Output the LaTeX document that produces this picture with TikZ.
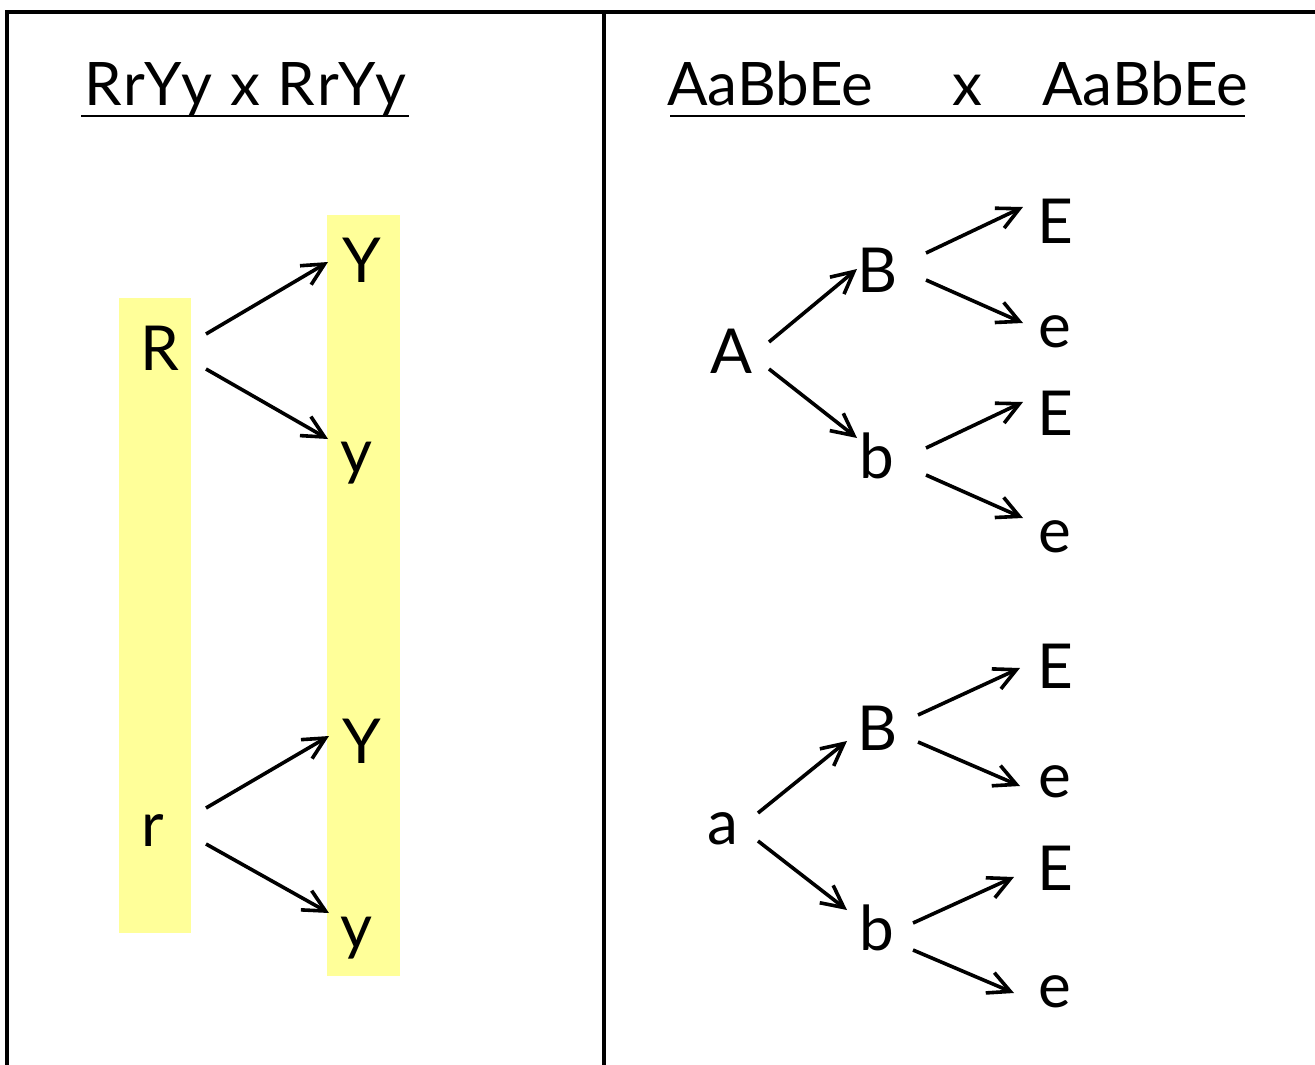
\documentclass[tikz,border=0pt]{standalone}
\usepackage{fontspec}
\setmainfont{Lato}
\usetikzlibrary{arrows.meta}
\definecolor{hl}{HTML}{FFFF99}
\tikzset{
  lt/.style={inner sep=0pt, anchor=base, font=\fontsize{62}{62}\selectfont},
  ttl/.style={inner sep=0pt, anchor=base, font=\fontsize{60}{60}\selectfont},
  arr/.style={line width=3.6pt, -{Straight Barb[length=22pt,width=22pt,line width=3.6pt]}},
  frame/.style={line width=4.5pt},
  uline/.style={line width=1.5pt}
}
\begin{document}
\begin{tikzpicture}[x=1pt,y=-1pt]
\useasboundingbox (0,0) rectangle (1315,1065);
% frame
\draw[frame] (1315,12) -- (7,12) -- (7,1065);
\draw[frame] (604,12) -- (604,1065);
% highlights
\fill[hl] (119,298) rectangle (191,933);
\fill[hl] (327,215) rectangle (400,976);
% left title
\node[ttl] (t1) at (245,106) {\addfontfeatures{LetterSpace=4}RrYy x RrYy};
\draw[uline] (81,116) -- (409,116);
% right title
\node[ttl] (t2a) at (770,106) {AaBbEe};
\node[ttl] (t2x) at (967,106) {x};
\node[ttl] (t2b) at (1145,106) {AaBbEe};
\draw[uline] (670,116) -- (1245,116);
% left letters
\node[lt] (R) at (160,370) {R};
\node[lt] (r) at (153,846) {r};
\node[lt] (Y1) at (362,282) {Y};
\node[lt] (y1) at (356,473) {y};
\node[lt] (Y2) at (362,763) {Y};
\node[lt] (y2) at (356,948) {y};
\draw[arr] ([shift={(46,-36)}]R.base) -- ([shift={(-34,-20)}]Y1.base);
\draw[arr] ([shift={(46,-1)}]R.base) -- ([shift={(-28,-34)}]y1.base);
\draw[arr] ([shift={(53,-38)}]r.base) -- ([shift={(-33,-27)}]Y2.base);
\draw[arr] ([shift={(53,-2)}]r.base) -- ([shift={(-27,-35)}]y2.base);
% right upper tree
\node[lt] (A) at (731,373) {A};
\node[lt] (B1) at (878,292) {B};
\node[lt] (b1) at (877,478) {b};
\node[lt] (E1) at (1055,243) {E};
\node[lt] (e1) at (1055,347) {e};
\node[lt] (E2) at (1055,435) {E};
\node[lt] (e2) at (1055,552) {e};
\draw[arr] ([shift={(38,-31)}]A.base) -- ([shift={(-21,-23)}]B1.base);
\draw[arr] ([shift={(38,-4)}]A.base) -- ([shift={(-20,-40)}]b1.base);
\draw[arr] ([shift={(48,-39)}]B1.base) -- ([shift={(-32,-36)}]E1.base);
\draw[arr] ([shift={(48,-12)}]B1.base) -- ([shift={(-32,-24)}]e1.base);
\draw[arr] ([shift={(49,-30)}]b1.base) -- ([shift={(-32,-33)}]E2.base);
\draw[arr] ([shift={(49,-3)}]b1.base) -- ([shift={(-32,-34)}]e2.base);
% right lower tree
\node[lt] (a) at (723,844) {a};
\node[lt] (B2) at (878,750) {B};
\node[lt] (b2) at (877,950) {b};
\node[lt] (E3) at (1055,688) {E};
\node[lt] (e3) at (1055,797) {e};
\node[lt] (E4) at (1055,890) {E};
\node[lt] (e4) at (1055,1007) {e};
\draw[arr] ([shift={(35,-31)}]a.base) -- ([shift={(-31,-9)}]B2.base);
\draw[arr] ([shift={(35,-3)}]a.base) -- ([shift={(-30,-40)}]b2.base);
\draw[arr] ([shift={(40,-35)}]B2.base) -- ([shift={(-35,-20)}]E3.base);
\draw[arr] ([shift={(40,-8)}]B2.base) -- ([shift={(-35,-11)}]e3.base);
\draw[arr] ([shift={(36,-27)}]b2.base) -- ([shift={(-41,-13)}]E4.base);
\draw[arr] ([shift={(36,0)}]b2.base) -- ([shift={(-41,-14)}]e4.base);
\end{tikzpicture}
\end{document}
